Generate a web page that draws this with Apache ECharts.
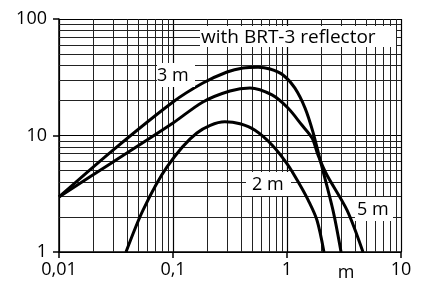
<!DOCTYPE html>
<html>
<head>
<meta charset="utf-8">
<script src="https://cdn.jsdelivr.net/npm/echarts@6/dist/echarts.min.js"></script>
<style>
  html, body { margin: 0; padding: 0; background: #fff; }
  #chart { width: 427px; height: 281px; }
</style>
</head>
<body>
<div id="chart"></div>
<script>
// curves, [distance, value]
const curve3m = [
  [0.01, 2.97], [0.0298, 7.5], [0.1, 19.4], [0.183, 28.2], [0.298, 35.1],
  [0.411, 38.0], [0.557, 38.6], [0.71, 37.2], [0.923, 33.1], [1.17, 25.6],
  [1.44, 17.2], [1.69, 10.7], [1.95, 6.2], [2.53, 2.29], [2.98, 1.0]
];
const curve5m = [
  [0.01, 2.97], [0.0298, 5.93], [0.1, 12.8], [0.183, 19.4], [0.316, 24.1],
  [0.473, 25.6], [0.739, 22.3], [1.02, 17.2], [1.35, 12.3], [1.66, 9.5],
  [1.87, 6.8], [2.24, 4.58], [3.36, 2.29], [4.64, 1.0]
];
const curve2m = [
  [0.0387, 1.0], [0.0546, 2.29], [0.0886, 5.37], [0.162, 10.5], [0.285, 13.1],
  [0.387, 12.6], [0.524, 11.1], [0.739, 8.3], [1.02, 5.58], [1.30, 3.76],
  [1.53, 2.8], [1.83, 1.88], [2.11, 1.0]
];

const xTickLabels = ['0,01', '0,1', '1', '10'];
const yTickLabels = ['1', '10', '100'];
const xDecades = [0.01, 0.1, 1];
const yDecades = [1, 10];
const minorSteps = [2, 3, 4, 5, 6, 7, 8, 9];

const FONT = '"Open Sans", "Noto Sans", sans-serif';
const INK = '#000';

const minorX = [];
xDecades.forEach(d => minorSteps.forEach(s => minorX.push({ xAxis: +(d * s).toPrecision(3) })));
const minorY = [];
yDecades.forEach(d => minorSteps.forEach(s => minorY.push({ yAxis: +(d * s).toPrecision(3) })));

function labelBox(x, y, w, h, text, tx, size) {
  return [
    { type: 'rect', z: 100, shape: { x: x, y: y, width: w, height: h }, style: { fill: '#fff' } },
    {
      type: 'text', z: 101,
      style: {
        x: tx, y: y + h / 2 + 1, text: text,
        font: size + 'px ' + FONT, fill: INK,
        textAlign: 'left', textVerticalAlign: 'middle'
      }
    }
  ];
}

const chart = echarts.init(document.getElementById('chart'));

const curveStyle = { color: INK, width: 3 };

chart.setOption({
  animation: false,
  grid: { left: 59, right: 26, top: 19, bottom: 29 },
  xAxis: {
    type: 'log',
    logBase: 10,
    min: 0.01,
    max: 10,
    axisLine: { show: true, lineStyle: { color: INK, width: 1.5 } },
    axisTick: { show: true, length: 6, lineStyle: { color: INK, width: 1.5 } },
    axisLabel: {
      margin: 9,
      fontSize: 18,
      fontFamily: FONT,
      color: INK,
      formatter: v => xTickLabels[Math.round(Math.log10(v)) + 2]
    },
    splitLine: { show: true, lineStyle: { color: INK, width: 1.2 } }
  },
  yAxis: {
    type: 'log',
    logBase: 10,
    min: 1,
    max: 100,
    axisLine: { show: true, lineStyle: { color: INK, width: 1.5 } },
    axisTick: { show: true, length: 6, lineStyle: { color: INK, width: 1.5 } },
    axisLabel: {
      margin: 12,
      fontSize: 18,
      fontFamily: FONT,
      color: INK,
      formatter: v => yTickLabels[Math.round(Math.log10(v))]
    },
    splitLine: { show: true, lineStyle: { color: INK, width: 1.2 } }
  },
  series: [
    {
      name: 'grid',
      type: 'line',
      data: [[0.01, 1]],
      symbol: 'none',
      lineStyle: { opacity: 0 },
      silent: true,
      z: 1,
      markLine: {
        silent: true,
        symbol: ['none', 'none'],
        label: { show: false },
        lineStyle: { color: '#222', width: 1, type: 'solid' },
        data: minorX.concat(minorY)
      }
    },
    { name: '3 m', type: 'line', data: curve3m, smooth: 0.3, symbol: 'none', lineStyle: curveStyle, z: 5 },
    { name: '5 m', type: 'line', data: curve5m, smooth: 0.3, symbol: 'none', lineStyle: curveStyle, z: 5 },
    { name: '2 m', type: 'line', data: curve2m, smooth: 0.3, symbol: 'none', lineStyle: curveStyle, z: 5 }
  ],
  graphic: [].concat(
    labelBox(200, 26, 196, 21, 'with BRT-3 reflector', 201, 19),
    labelBox(157, 63, 38, 24, '3 m', 157, 18),
    labelBox(246, 172, 45, 24, '2 m', 252, 18),
    labelBox(355, 197, 38, 24, '5 m', 357, 18),
    [{
      type: 'text', z: 101,
      style: {
        x: 346, y: 273, text: 'm', font: '18px ' + FONT, fill: INK,
        textAlign: 'center', textVerticalAlign: 'middle'
      }
    }]
  )
});
</script>
</body>
</html>
